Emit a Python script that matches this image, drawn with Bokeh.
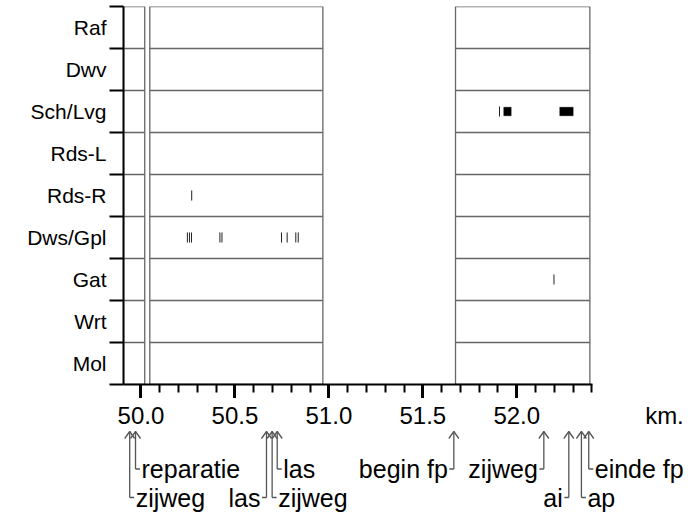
from bokeh.plotting import figure
from bokeh.layouts import column
from bokeh.models import FixedTicker, Range1d
from bokeh.embed import file_html
from bokeh.resources import INLINE

FONT = "Liberation Sans"

# ---------------- data ----------------
categories = ["Raf", "Dwv", "Sch/Lvg", "Rds-L", "Rds-R", "Dws/Gpl", "Gat", "Wrt", "Mol"]

x_ticks = [50.0, 50.5, 51.0, 51.5, 52.0]
x_tick_labels = ["50.0", "50.5", "51.0", "51.5", "52.0"]
x_minor_ticks = [50.1, 50.2, 50.3, 50.4, 50.6, 50.7, 50.8, 50.9, 51.1, 51.2, 51.3, 51.4,
                 51.6, 51.7, 51.8, 51.9, 52.1, 52.2, 52.3, 52.4]
unit_pos, unit_label = 52.786, "km."
axis_start, axis_end = 49.907, 52.403

# measured sections (boxes)
panel_start = [49.907, 50.047, 51.674]
panel_end = [50.020, 50.968, 52.389]

# single observations (thin marks)
tick_cat = ["Rds-R", "Dws/Gpl", "Dws/Gpl", "Dws/Gpl", "Dws/Gpl", "Dws/Gpl",
            "Dws/Gpl", "Dws/Gpl", "Dws/Gpl", "Dws/Gpl", "Sch/Lvg", "Gat"]
tick_km = [50.270, 50.247, 50.258, 50.269, 50.420, 50.431,
           50.748, 50.778, 50.824, 50.837, 51.908, 52.198]

# extended observations (blocks)
block_cat = ["Sch/Lvg", "Sch/Lvg"]
block_start = [51.931, 52.229]
block_end = [51.970, 52.300]

# objects along the road
ann_text = ["zijweg", "reparatie", "las", "zijweg", "las", "begin fp", "zijweg", "ai", "ap", "einde fp"]
ann_km = [49.940, 49.971, 50.668, 50.698, 50.725, 51.665, 52.144, 52.277, 52.344, 52.383]
ann_level = [2, 1, 2, 2, 1, 1, 1, 2, 2, 1]
ann_side = ["right", "right", "left", "right", "right", "left", "left", "left", "right", "right"]

# ---------------- layout constants ----------------
BL = 123                 # left border (axis line position)
AXIS_PX = 469            # pixel length of the km axis
FRAME_W = 567            # frames run to the right edge
km_per_px = (axis_end - axis_start) / AXIS_PX
view_end = axis_start + FRAME_W * km_per_px
n = len(categories)
row_y = {c: n - i - 0.5 for i, c in enumerate(categories)}
GREY = "#666666"

# ---------------- top figure: the strips ----------------
p = figure(frame_width=FRAME_W, frame_height=378,
           x_range=Range1d(axis_start, view_end), y_range=Range1d(0, n),
           output_backend="svg", toolbar_location=None,
           min_border_left=BL, min_border_right=0, min_border_top=6, min_border_bottom=14)
p.xgrid.visible = False
p.ygrid.visible = False
p.outline_line_color = None

p.quad(left=panel_start, right=panel_end, bottom=0, top=n,
       fill_color=None, line_color=GREY, line_width=1.3)
sx0, sx1, sy = [], [], []
for a, b in zip(panel_start, panel_end):
    for k in range(1, n):
        sx0.append(a); sx1.append(b); sy.append(k)
p.segment(x0=sx0, x1=sx1, y0=sy, y1=sy, line_color=GREY, line_width=1.3)

ty = [row_y[c] for c in tick_cat]
p.segment(x0=tick_km, x1=tick_km, y0=[y - 0.12 for y in ty], y1=[y + 0.12 for y in ty],
          line_color="#222222", line_width=1)
by = [row_y[c] for c in block_cat]
p.quad(left=block_start, right=block_end, bottom=[y - 0.1 for y in by], top=[y + 0.1 for y in by],
       fill_color="black", line_color="black", line_width=0.5)

yax = p.yaxis[0]
yax.ticker = FixedTicker(ticks=[row_y[c] for c in categories], minor_ticks=list(range(0, n + 1)))
yax.major_label_overrides = {row_y[c]: c for c in categories}
yax.axis_line_width = 2
yax.axis_line_color = "black"
yax.major_tick_out = 0
yax.major_tick_in = 0
yax.major_tick_line_color = None
yax.minor_tick_out = 14
yax.minor_tick_in = 0
yax.minor_tick_line_width = 2
yax.minor_tick_line_color = "black"
yax.major_label_standoff = 3
yax.major_label_text_font = FONT
yax.major_label_text_font_size = "21px"
yax.major_label_text_color = "black"

xax = p.xaxis[0]
xax.bounds = (axis_start, axis_end)
xax.ticker = FixedTicker(ticks=x_ticks, minor_ticks=x_minor_ticks)
xax.major_label_overrides = {t: "" for t in x_ticks}   # numbers are written by the scale below
xax.axis_line_width = 2
xax.axis_line_color = "black"
xax.major_tick_out = 14
xax.major_tick_in = 0
xax.major_tick_line_width = 3
xax.major_tick_line_color = "black"
xax.minor_tick_out = 8
xax.minor_tick_in = 0
xax.minor_tick_line_width = 2
xax.minor_tick_line_color = "black"
xax.major_label_standoff = 0

# ---------------- bottom figure: km labels and objects ----------------
FRAME_H2, TOP2 = 86, 32
q = figure(frame_width=FRAME_W, frame_height=FRAME_H2,
           x_range=Range1d(axis_start, view_end), y_range=Range1d(-FRAME_H2, 0),
           output_backend="svg", toolbar_location=None, x_axis_location="above",
           min_border_left=BL, min_border_right=0, min_border_top=TOP2, min_border_bottom=0)
q.xgrid.visible = False
q.ygrid.visible = False
q.yaxis.visible = False
q.outline_line_color = None

qax = q.xaxis[0]
qax.ticker = FixedTicker(ticks=x_ticks + [unit_pos], minor_ticks=[])
qax.major_label_overrides = dict(zip(x_ticks + [unit_pos], x_tick_labels + [unit_label]))
qax.axis_line_color = None
qax.major_tick_line_color = None
qax.minor_tick_line_color = None
qax.major_tick_out = 0
qax.major_tick_in = 0
qax.minor_tick_out = 0
qax.minor_tick_in = 0
qax.major_label_standoff = 2
qax.major_label_text_font = FONT
qax.major_label_text_font_size = "24px"
qax.major_label_text_color = "black"

TIP = -1.0
ELBOW = {1: -38.5, 2: -67.0}
TEXT_DROP = 0.0
ELBOW_KM = 4.5 * km_per_px
HEAD_KM, HEAD_DY = 5.0 * km_per_px, 7.0
ANN = "#555555"

ye = [ELBOW[l] for l in ann_level]
xe = [k + (ELBOW_KM if s == "right" else -ELBOW_KM) for k, s in zip(ann_km, ann_side)]
q.segment(x0=ann_km, x1=ann_km, y0=[TIP] * len(ann_km), y1=ye, line_color=ANN, line_width=1.3)
q.segment(x0=ann_km, x1=xe, y0=ye, y1=ye, line_color=ANN, line_width=1.3)
q.multi_line(xs=[[k - HEAD_KM, k, k + HEAD_KM] for k in ann_km],
             ys=[[TIP - HEAD_DY, TIP, TIP - HEAD_DY] for _ in ann_km],
             line_color=ANN, line_width=1.3)

for side, align, dx in (("right", "left", 1.5), ("left", "right", -1.5)):
    idx = [i for i, s in enumerate(ann_side) if s == side]
    q.text(x=[xe[i] + dx * km_per_px for i in idx], y=[ye[i] - TEXT_DROP for i in idx],
           text=[ann_text[i] for i in idx], text_align=align, text_baseline="alphabetic",
           text_font={"value": FONT}, text_font_size="25px", text_color="black")

layout = column(p, q, spacing=0)
open("out.html", "w").write(file_html(layout, INLINE))
